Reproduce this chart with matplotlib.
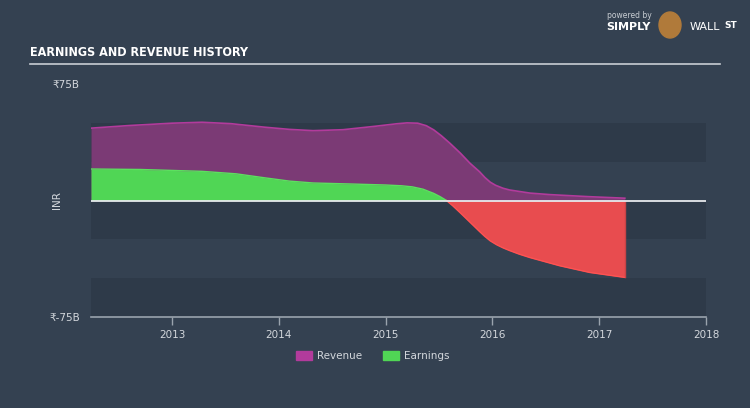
import matplotlib
matplotlib.use("Agg")
import matplotlib.pyplot as plt
from matplotlib.patches import Ellipse
import numpy as np

# revenue history (INR billions)
rev_years = [2012.24, 2012.6, 2013.0, 2013.28, 2013.55, 2013.87, 2014.1, 2014.32, 2014.6,
             2014.9, 2015.1, 2015.2, 2015.3, 2015.38, 2015.45, 2015.52, 2015.6, 2015.7,
             2015.79, 2015.88, 2015.93, 2015.98, 2016.03, 2016.1, 2016.16, 2016.35,
             2016.54, 2016.9, 2017.24]
revenue = [46.6, 48.3, 49.8, 50.4, 49.5, 47.2, 45.8, 45.0, 45.6,
           47.8, 49.4, 50.0, 49.8, 48.2, 45.5, 41.8, 37.0, 30.5,
           24.0, 18.5, 14.8, 11.8, 9.8, 7.9, 6.8, 4.8,
           3.8, 2.5, 1.5]

# earnings history (INR billions)
earn_years = [2012.24, 2012.7, 2013.28, 2013.6, 2013.87, 2014.1, 2014.32, 2014.7, 2015.0,
              2015.15, 2015.25, 2015.35, 2015.45, 2015.51, 2015.57, 2015.63, 2015.7,
              2015.79, 2015.88, 2015.93, 2015.98, 2016.04, 2016.1, 2016.16, 2016.25,
              2016.35, 2016.63, 2016.91, 2017.24]
earnings = [20.3, 20.0, 18.8, 17.2, 14.6, 12.5, 11.3, 10.6, 10.0,
            9.5, 8.8, 7.3, 4.6, 2.5, 0.0, -3.5, -8.0,
            -14.0, -20.0, -23.2, -26.0, -28.5, -30.5, -32.2, -34.5,
            -36.7, -42.0, -46.3, -49.5]

year_ticks = [2013, 2014, 2015, 2016, 2017, 2018]

bg = '#344151'
band = '#2e3a49'
txt = '#d3d7dc'

fig = plt.figure(figsize=(7.5, 4.08), dpi=100, facecolor=bg)
ax = fig.add_axes([0.1213, 0.223, 0.82, 0.571])
ax.set_facecolor(bg)

x0, x1 = 2012.24, 2018.0
ax.set_xlim(x0, x1)
ax.set_ylim(-75, 75)

# alternating bands
for lo in (-75, -25, 25):
    ax.axhspan(lo, lo + 25, color=band, zorder=0, lw=0)

rx = np.array(rev_years)
ry = np.array(revenue)
ex = np.array(earn_years)
ey = np.array(earnings)

ax.fill_between(rx, 0, ry, color='#7b3a75', lw=0, zorder=2)
ax.plot(rx, ry, color='#b23b9c', lw=1.2, zorder=3)

ax.fill_between(ex, 0, ey, where=ey >= 0, interpolate=True, color='#50d655', lw=0, zorder=4)
ax.fill_between(ex, 0, ey, where=ey <= 0, interpolate=True, color='#e84c4f', lw=0, zorder=4)
pos = ey >= 0
ax.plot(ex[pos], ey[pos], color='#5ce05f', lw=1.0, zorder=5)
ax.plot(ex[ey <= 0], ey[ey <= 0], color='#ff5252', lw=1.0, zorder=5)
ax.plot([ex[-1], ex[-1]], [0, ey[-1]], color='#c94346', lw=1.0, zorder=5)

ax.axhline(0, color='#e6e9ec', lw=1.3, zorder=6)

for s in ('top', 'right', 'left'):
    ax.spines[s].set_visible(False)
ax.spines['bottom'].set_color('#9aa3ad')
ax.spines['bottom'].set_linewidth(1.2)

ax.set_xticks(year_ticks)
ax.set_xticklabels([str(y) for y in year_ticks])
ax.tick_params(axis='x', colors='#9aa3ad', length=6, width=1, labelcolor=txt, labelsize=7.5, pad=3)
ax.set_yticks([-75, 75])
ax.set_yticklabels(['₹-75B', '₹75B'])
ax.tick_params(axis='y', length=0, labelcolor=txt, labelsize=7.5, pad=8)
ax.set_ylabel('INR', color=txt, fontsize=7.5, labelpad=-9)

# title + rule
fig.text(30 / 750, 1 - 53 / 408, 'EARNINGS AND REVENUE HISTORY', color='white',
         fontsize=9, fontweight='bold', fontstretch='condensed',
         family=['DejaVu Sans'], va='center', ha='left')
fig.add_artist(plt.Line2D([30 / 750, 720 / 750], [1 - 64 / 408] * 2, color='#c8cdd3', lw=1.2))

# logo
fig.text(607 / 750, 1 - 15 / 408, 'powered by', color='#c8cdd3', fontsize=5.5, va='center')
fig.text(606 / 750, 1 - 27 / 408, 'SIMPLY', color='white', fontsize=8, fontweight='bold', va='center')
fig.add_artist(Ellipse((670 / 750, 1 - 25 / 408), 22 / 750, 26 / 408, color='#b07a3a'))
fig.text(690 / 750, 1 - 27 / 408, 'WALL', color='white', fontsize=8, va='center')
fig.text(724 / 750, 1 - 26 / 408, 'ST', color='white', fontsize=6.5, fontweight='bold', va='center')

# legend
handles = [plt.Rectangle((0, 0), 1, 1, color='#b23b9c'), plt.Rectangle((0, 0), 1, 1, color='#50d655')]
leg = fig.legend(handles, ['Revenue', 'Earnings'], loc='center', bbox_to_anchor=(0.497, 1 - 356 / 408),
                 ncol=2, frameon=False, fontsize=7.5, handlelength=1.5, handleheight=1.0,
                 columnspacing=2.0, handletextpad=0.5)
for t in leg.get_texts():
    t.set_color(txt)

fig.savefig('out.png', dpi=100, facecolor=bg)
